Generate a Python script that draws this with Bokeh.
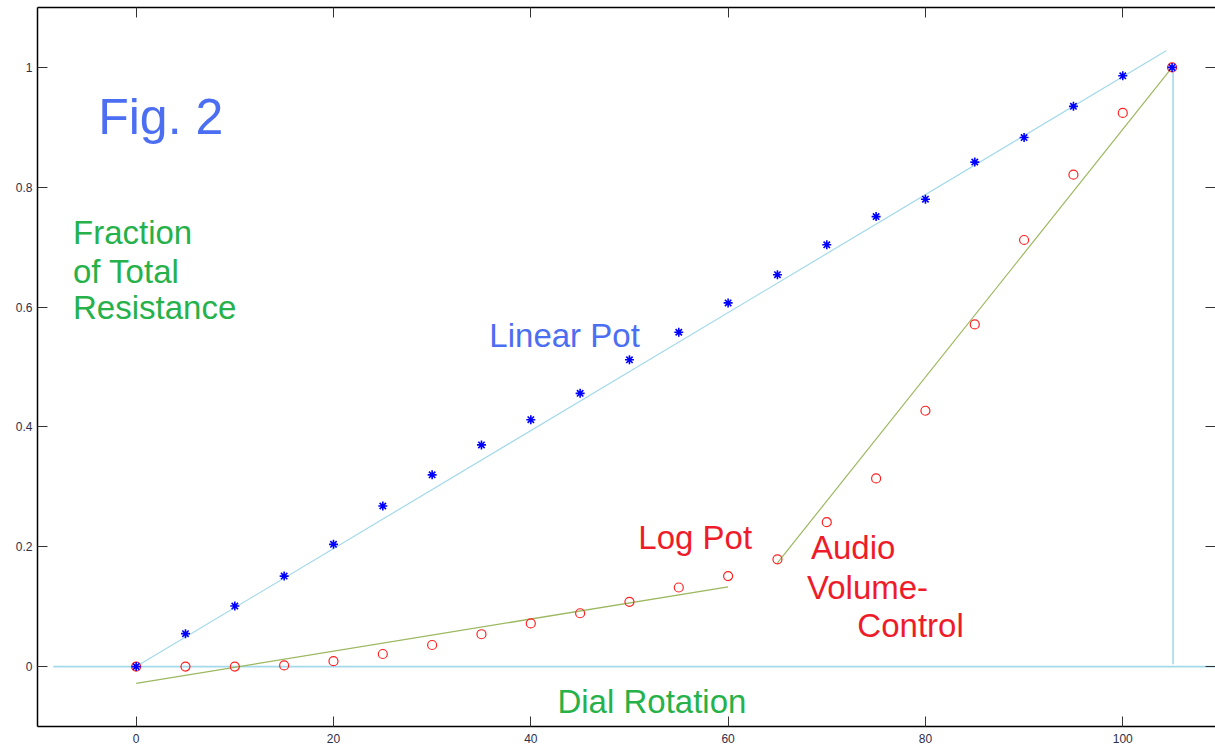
from bokeh.plotting import figure
from bokeh.models import Range1d, LinearAxis, Label, FixedTicker
from bokeh.embed import file_html
from bokeh.resources import INLINE

# ---- data ----
dial = [0, 5, 10, 15, 20, 25, 30, 35, 40, 45, 50, 55, 60, 65, 70, 75, 80, 85, 90, 95, 100, 105]
linear_pot = [0.0, 0.055, 0.101, 0.151, 0.204, 0.268, 0.320, 0.370, 0.412, 0.456, 0.512, 0.558,
              0.607, 0.654, 0.704, 0.751, 0.780, 0.842, 0.883, 0.935, 0.986, 1.0]
log_pot = [0.0, 0.0, 0.0, 0.002, 0.009, 0.021, 0.036, 0.054, 0.072, 0.089, 0.108, 0.132,
           0.151, 0.179, 0.241, 0.314, 0.427, 0.571, 0.712, 0.821, 0.924, 1.0]

linear_fit_x = [0, 104.4]
linear_fit_y = [0, 1.028]
log_fit1_x = [0, 60]
log_fit1_y = [-0.028, 0.133]
log_fit2_x = [65, 105]
log_fit2_y = [0.173, 1.0]
zero_x = [-8.4, 112]
zero_y = [0, 0]
vert_x = [105.1, 105.1]
vert_y = [0.004, 1.0]

x_ticks = [0, 20, 40, 60, 80, 100]
y_ticks = [0, 0.2, 0.4, 0.6, 0.8, 1]

p = figure(width=1215, height=746, output_backend="svg", toolbar_location=None,
           x_range=Range1d(-10, 109.4), y_range=Range1d(-0.1, 1.1),
           min_border_left=37, min_border_right=0, min_border_top=7, min_border_bottom=20)
p.background_fill_color = "white"
p.border_fill_color = "white"
p.outline_line_color = None
p.grid.visible = False

tick_col = "#333333"
lab_col = "#2e2e4a"
for ax in (p.xaxis[0], p.yaxis[0]):
    ax.major_tick_in = 10
    ax.major_tick_out = 0
    ax.minor_tick_line_color = None
    ax.axis_line_color = "black"
    ax.axis_line_width = 1.5
    ax.major_tick_line_color = tick_col
    ax.major_label_text_font = "Liberation Sans"
    ax.major_label_text_font_size = "12px"
    ax.major_label_text_color = lab_col
p.xaxis[0].ticker = FixedTicker(ticks=x_ticks)
p.yaxis[0].ticker = FixedTicker(ticks=y_ticks)
p.xaxis[0].major_label_standoff = 7
p.yaxis[0].major_label_standoff = 5

top = LinearAxis(ticker=FixedTicker(ticks=x_ticks), major_tick_in=10, major_tick_out=0,
                 minor_tick_line_color=None, axis_line_color="black", axis_line_width=1.5,
                 major_tick_line_color=tick_col,
                 major_label_overrides={t: "" for t in x_ticks}, major_label_standoff=0)
right = LinearAxis(ticker=FixedTicker(ticks=y_ticks), major_tick_in=10, major_tick_out=0,
                   minor_tick_line_color=None, axis_line_color=None, major_tick_line_color=tick_col,
                   major_label_overrides={t: "" for t in y_ticks}, major_label_standoff=0)
p.add_layout(top, "above")
p.add_layout(right, "right")

cyan = "#a3d9ea"
olive = "#9cb860"
p.line(zero_x, zero_y, line_color=cyan, line_width=1.6)
p.line(vert_x, vert_y, line_color=cyan, line_width=1.6)
p.line(linear_fit_x, linear_fit_y, line_color=cyan, line_width=1.2)
p.line(log_fit1_x, log_fit1_y, line_color=olive, line_width=1.3)
p.line(log_fit2_x, log_fit2_y, line_color=olive, line_width=1.2)

p.scatter(dial, log_pot, marker="circle", size=9, fill_color=None, line_color="#ff2020", line_width=1.2)
p.scatter(dial, linear_pot, marker="asterisk", size=9, line_color="#0000ff", line_width=1.6)

font = "Liberation Sans"
blue_t = "#4c6ef2"
green_t = "#26b14a"
red_t = "#ee1c2a"

def lab(x, y, t, c, s):
    p.add_layout(Label(x=x, y=y, text=t, text_color=c, text_font=font, text_font_size=s,
                       text_baseline="alphabetic", text_align="left"))

lab(-3.85, 0.918, "Fig. 2", blue_t, "50px")
lab(-6.4, 0.724, "Fraction", green_t, "33px")
lab(-6.4, 0.660, "of Total", green_t, "33px")
lab(-6.4, 0.599, "Resistance", green_t, "33px")
lab(35.8, 0.553, "Linear Pot", blue_t, "33px")
lab(50.9, 0.215, "Log Pot", red_t, "33px")
lab(68.4, 0.198, "Audio", red_t, "33px")
lab(68.0, 0.132, "Volume-", red_t, "33px")
lab(73.1, 0.069, "Control", red_t, "33px")
lab(42.7, -0.059, "Dial Rotation", green_t, "33px")

open("out.html", "w").write(file_html(p, INLINE))
